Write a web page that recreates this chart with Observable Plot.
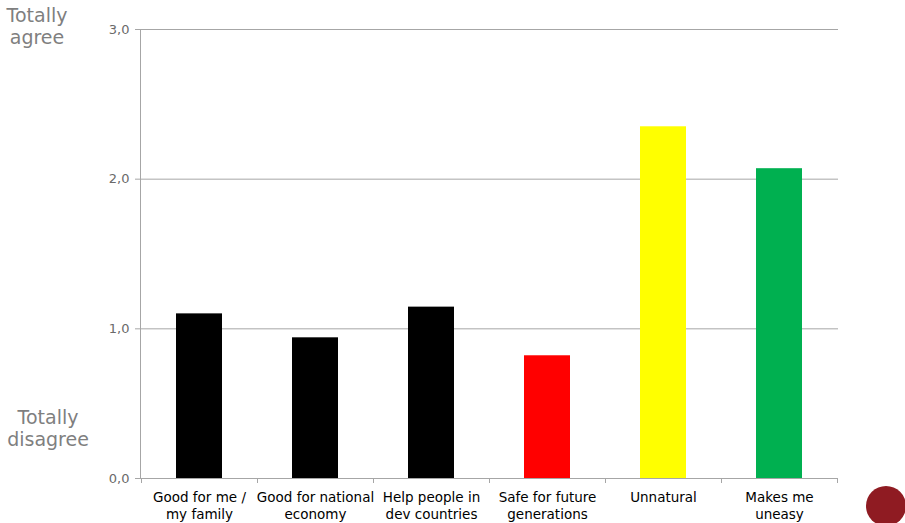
<!DOCTYPE html>
<html>
<head>
<meta charset="utf-8">
<script src="https://cdn.jsdelivr.net/npm/d3@7"></script>
<script src="https://cdn.jsdelivr.net/npm/@observablehq/plot@0.6"></script>
<style>
  html, body { margin: 0; padding: 0; background: #fff; }
  #wrap { position: relative; width: 905px; height: 523px; font-family: "DejaVu Sans", Verdana, sans-serif; overflow: hidden; }
  .side { position: absolute; color: #7f7f7f; font-size: 19px; line-height: 22px; text-align: center; }
  #logo { position: absolute; left: 866px; top: 486px; width: 40px; height: 40px; border-radius: 50%; background: #8f1b22; }
</style>
</head>
<body>
<div id="wrap">
  <div id="chart"></div>
  <div class="side" style="left:0px; top:4px; width:74px;">Totally<br>agree</div>
  <div class="side" style="left:0px; top:406px; width:96px;">Totally<br>disagree</div>
  <div id="logo"></div>
</div>
<script>
const categories = [
  "Good for me /\nmy family",
  "Good for national\neconomy",
  "Help people in\ndev countries",
  "Safe for future\ngenerations",
  "Unnatural",
  "Makes me\nuneasy"
];
const values = [1.10, 0.94, 1.145, 0.82, 2.35, 2.07];
const colors = ["#000000", "#000000", "#000000", "#ff0000", "#ffff00", "#00b050"];
const yTicks = [0, 1, 2, 3];

const data = categories.map((c, i) => ({cat: c, value: values[i], color: colors[i]}));

const W = 905, H = 523, ML = 140, MR = 67, MT = 29, MB = 45;

const chart = Plot.plot({
  width: W,
  height: H,
  marginLeft: ML,
  marginRight: MR,
  marginTop: MT,
  marginBottom: MB,
  style: {fontFamily: "DejaVu Sans, Verdana, sans-serif", background: "#fff"},
  x: {domain: categories, paddingInner: 0.6, paddingOuter: 0.3, label: null},
  y: {domain: [0, 3], label: null},
  marks: [
    Plot.ruleY(yTicks.filter(d => d > 0), {stroke: "#a6a6a6", strokeWidth: 1}),
    Plot.barY(data, {x: "cat", y: "value", fill: "color"}),
    Plot.ruleY([0], {stroke: "#a6a6a6", strokeWidth: 1}),
    Plot.axisY({ticks: yTicks, tickFormat: d => d.toFixed(1).replace(".", ","), tickSize: 5, tickPadding: 6, stroke: "#a6a6a6", color: "#6a6a6a", fontSize: 13}),
    Plot.axisX({tickSize: 0, tickPadding: 12, fontSize: 13.5, color: "#000", lineHeight: 1.25})
  ]
});

// vertical axis line and boundary tick marks drawn via scales
const xs = chart.scale("x"), ys = chart.scale("y");
const svg = d3.select(chart);
const y0 = ys.apply(0), y3 = ys.apply(3);
svg.append("line").attr("x1", ML + 0.5).attr("x2", ML + 0.5).attr("y1", y3).attr("y2", y0).attr("stroke", "#a6a6a6");
const gap = (xs.step - xs.bandwidth) / 2;
const bounds = categories.map(c => xs.apply(c) - gap).concat([xs.apply(categories[categories.length - 1]) + xs.bandwidth + gap]);
svg.selectAll("line.bt").data(bounds).join("line").attr("class", "bt")
  .attr("x1", d => Math.round(d) + 0.5).attr("x2", d => Math.round(d) + 0.5)
  .attr("y1", y0).attr("y2", y0 + 5).attr("stroke", "#a6a6a6");

document.getElementById("chart").appendChild(chart);
</script>
</body>
</html>
